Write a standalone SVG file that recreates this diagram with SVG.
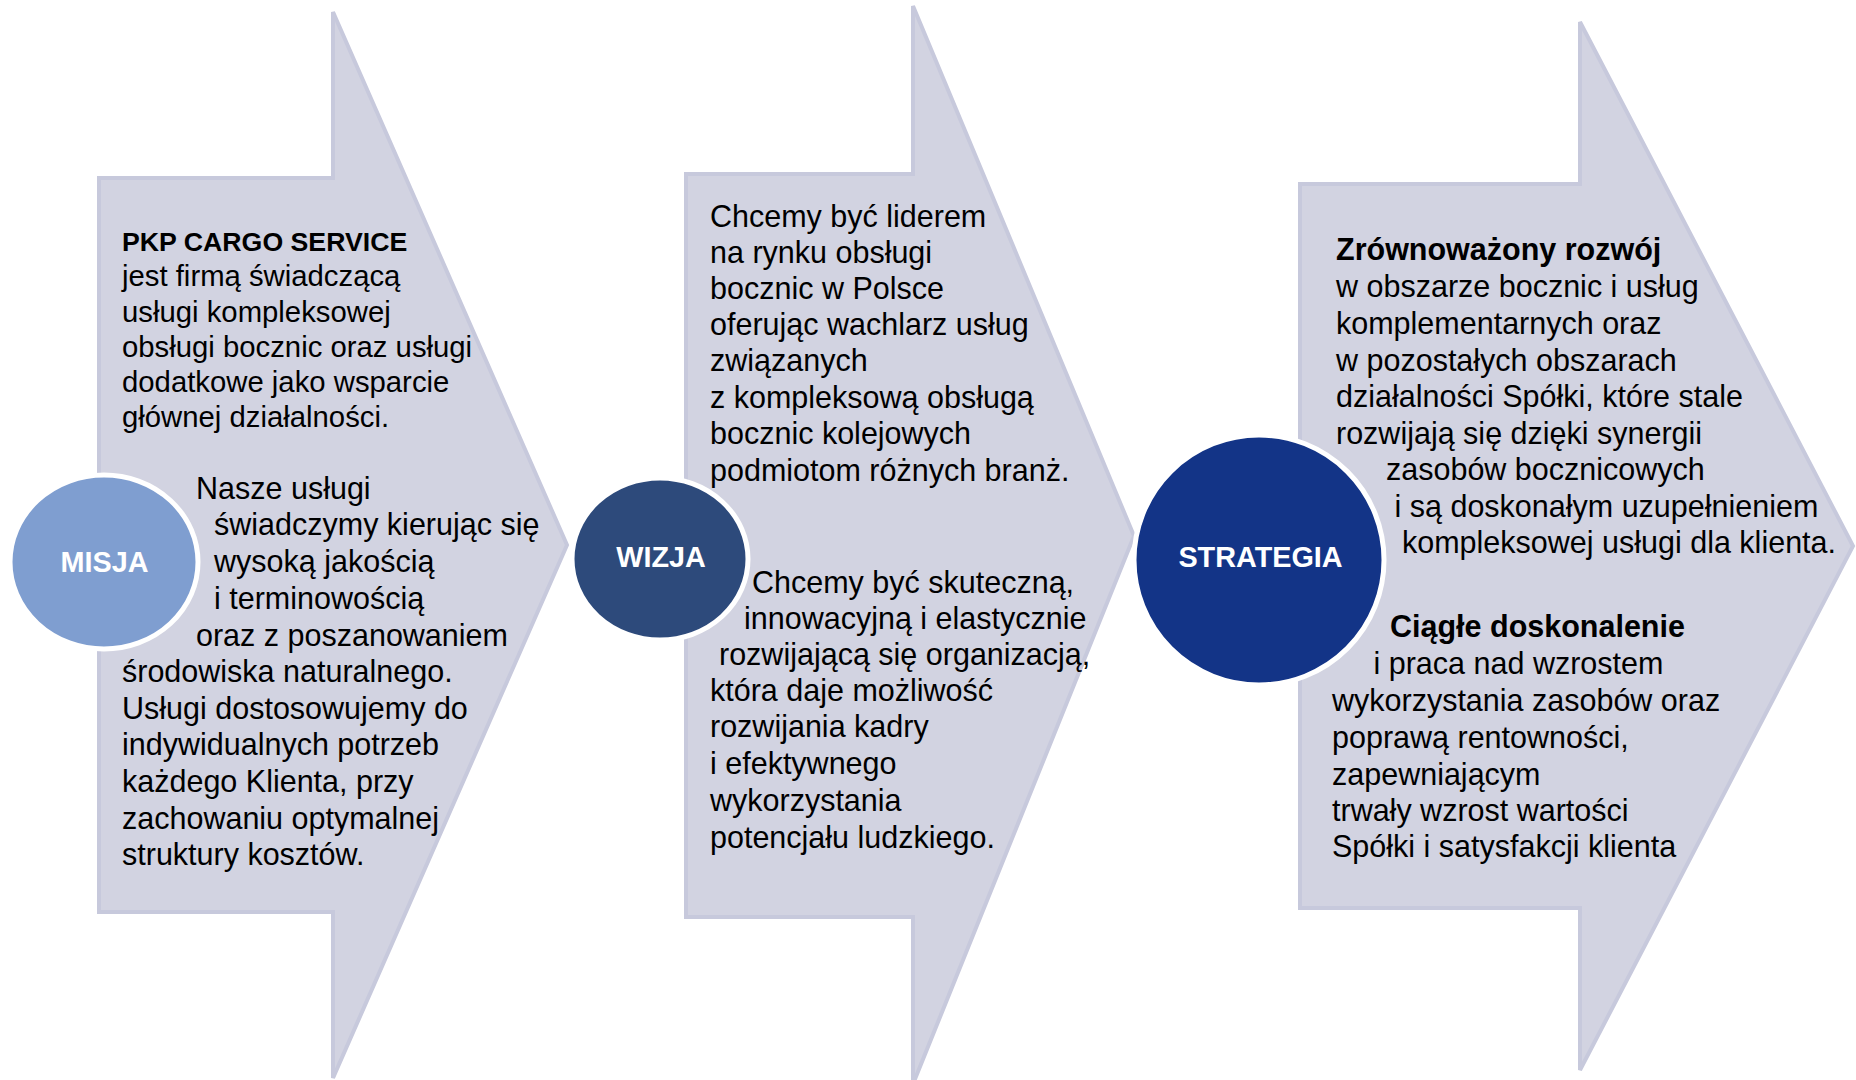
<svg xmlns="http://www.w3.org/2000/svg" width="1856" height="1080" viewBox="0 0 1856 1080">
<style>
.arrow{fill:#d2d3e1;stroke:#c7c9dc;stroke-width:4;stroke-linejoin:miter}
.t{font-family:"Liberation Sans",Arial,sans-serif;fill:#000}
.s1{font-size:29.3px}
.s2{font-size:30.5px}
.b{font-weight:bold}
.lab{font-family:"Liberation Sans",Arial,sans-serif;font-weight:bold;font-size:28.8px;fill:#fff;text-anchor:middle}
.circ{stroke:#fff;stroke-width:5}
</style>
<rect width="1856" height="1080" fill="#fff"/>
<g id="connectors"></g>
<g id="misja-arrow">
<path class="arrow" d="M99,178 H333 V12 L567,545 L333,1078 V912 H99 Z"/>
<text class="t"><tspan class="b" style="font-size:26.7px" x="122" y="251">PKP CARGO SERVICE</tspan></text>
<text class="t s1">
<tspan x="122" y="286">jest firmą świadczącą</tspan>
<tspan x="122" y="321.5">usługi kompleksowej</tspan>
<tspan x="122" y="356.5">obsługi bocznic oraz usługi</tspan>
<tspan x="122" y="392">dodatkowe jako wsparcie</tspan>
<tspan x="122" y="427">głównej działalności.</tspan>
</text>
<text class="t s2">
<tspan x="196" y="498.5">Nasze usługi</tspan>
<tspan x="214" y="535">świadczymy kierując się</tspan>
<tspan x="214" y="572">wysoką jakością</tspan>
<tspan x="214" y="608.5">i terminowością</tspan>
<tspan x="196" y="645.5">oraz z poszanowaniem</tspan>
<tspan x="122" y="682">środowiska naturalnego.</tspan>
<tspan x="122" y="718.5">Usługi dostosowujemy do</tspan>
<tspan x="122" y="755">indywidualnych potrzeb</tspan>
<tspan x="122" y="792">każdego Klienta, przy</tspan>
<tspan x="122" y="828.5">zachowaniu optymalnej</tspan>
<tspan x="122" y="865">struktury kosztów.</tspan>
</text>
</g>
<g id="wizja-arrow">
<path class="arrow" d="M686,174 H913 V6 L1134,536 L913,1084 V917 H686 Z"/>
<text class="t s2">
<tspan x="710" y="226.5">Chcemy być liderem</tspan>
<tspan x="710" y="262.5">na rynku obsługi</tspan>
<tspan x="710" y="299">bocznic w Polsce</tspan>
<tspan x="710" y="335">oferując wachlarz usług</tspan>
<tspan x="710" y="371">związanych</tspan>
<tspan x="710" y="407.5">z kompleksową obsługą</tspan>
<tspan x="710" y="444">bocznic kolejowych</tspan>
<tspan x="710" y="480.5">podmiotom różnych branż.</tspan>
</text>
<text class="t s2">
<tspan x="752" y="592.5">Chcemy być skuteczną,</tspan>
<tspan x="744" y="629">innowacyjną i elastycznie</tspan>
<tspan x="719" y="665">rozwijającą się organizacją,</tspan>
<tspan x="710" y="701">która daje możliwość</tspan>
<tspan x="710" y="737">rozwijania kadry</tspan>
<tspan x="710" y="773.5">i efektywnego</tspan>
<tspan x="710" y="810.5">wykorzystania</tspan>
<tspan x="710" y="847.5">potencjału ludzkiego.</tspan>
</text>
</g>
<g id="strategia-arrow">
<path class="arrow" d="M1300,184 H1580 V22 L1853,546 L1580,1070 V908 H1300 Z"/>
<text class="t s2">
<tspan class="b" x="1336" y="260">Zrównoważony rozwój</tspan>
<tspan x="1336" y="297">w obszarze bocznic i usług</tspan>
<tspan x="1336" y="333.5">komplementarnych oraz</tspan>
<tspan x="1336" y="370.5">w pozostałych obszarach</tspan>
<tspan x="1336" y="407">działalności Spółki, które stale</tspan>
<tspan x="1336" y="444">rozwijają się dzięki synergii</tspan>
<tspan x="1386" y="480">zasobów bocznicowych</tspan>
<tspan x="1394.5" y="516.5">i są doskonałym uzupełnieniem</tspan>
<tspan x="1402" y="552.5">kompleksowej usługi dla klienta.</tspan>
</text>
<text class="t s2">
<tspan class="b" x="1390" y="636.5">Ciągłe doskonalenie</tspan>
<tspan x="1373.5" y="674">i praca nad wzrostem</tspan>
<tspan x="1332" y="710.5">wykorzystania zasobów oraz</tspan>
<tspan x="1332" y="748">poprawą rentowności,</tspan>
<tspan x="1332" y="784.5">zapewniającym</tspan>
<tspan x="1332" y="820.5">trwały wzrost wartości</tspan>
<tspan x="1332" y="856.5">Spółki i satysfakcji klienta</tspan>
</text>
</g>
<g id="misja">
<ellipse class="circ" cx="104" cy="562" rx="94" ry="87" fill="#7f9ed0"/>
<text class="lab" x="104.5" y="572">MISJA</text>
</g>
<g id="wizja">
<ellipse class="circ" cx="660" cy="559" rx="88" ry="81" fill="#2d4a7b"/>
<text class="lab" x="661" y="567">WIZJA</text>
</g>
<g id="strategia">
<ellipse class="circ" cx="1259" cy="560" rx="125" ry="125" fill="#133487"/>
<text class="lab" x="1260.5" y="567">STRATEGIA</text>
</g>
</svg>
